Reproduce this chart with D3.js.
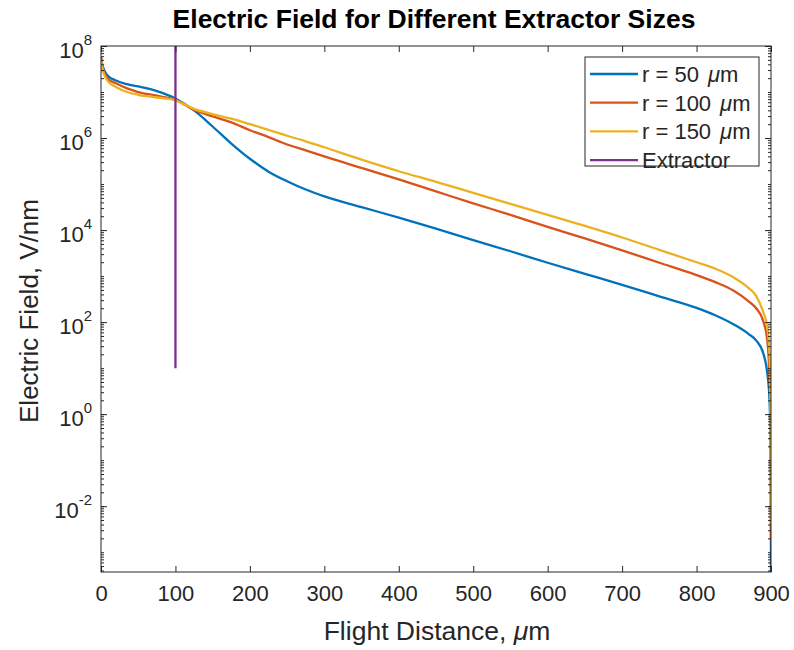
<!DOCTYPE html>
<html>
<head>
<meta charset="utf-8">
<script src="https://cdn.jsdelivr.net/npm/d3@7"></script>
<style>
  body { margin: 0; background: #fff; }
  svg { display: block; font-family: "Liberation Sans", Arial, Helvetica, sans-serif; }
</style>
</head>
<body>
<svg id="chart" width="794" height="650"></svg>
<script>
// Flight distance samples (µm)
const distance = [0, 2, 5, 10, 20, 35, 50, 75, 100, 125, 150, 175, 200, 225, 250, 275, 300, 350, 400,
  450, 500, 550, 600, 650, 700, 750, 800, 825, 850, 870, 880, 890, 895, 898, 899, 899.5, 899.8,
  899.95, 900];

// Electric field, V/nm, for each extractor radius
const fieldR50 = [5.75e7, 3.8e7, 2.82e7, 2.19e7, 1.78e7, 1.48e7, 1.32e7, 1.05e7, 7.24e6, 3.98e6, 1.78e6,
  7.6e5, 3.55e5, 1.86e5, 1.15e5, 7.6e4, 5.4e4, 3.16e4, 1.86e4, 1.07e4, 6.03e3, 3.47e3, 1.95e3, 1.12e3,
  646, 363, 204, 141, 89, 55, 40, 20, 7.9, 2.0, 0.5, 0.1, 0.01, 1e-3, 1e-4];
const fieldR100 = [5.5e7, 3.55e7, 2.51e7, 1.9e7, 1.55e7, 1.2e7, 1.0e7, 8.3e6, 6.76e6, 4.1e6, 2.95e6,
  2.19e6, 1.48e6, 1.05e6, 7.24e5, 5.4e5, 3.98e5, 2.24e5, 1.26e5, 6.92e4, 3.8e4, 2.14e4, 1.17e4,
  6.6e3, 3.63e3, 1.95e3, 1.05e3, 741, 479, 282, 200, 100, 40, 6.3, 1.58, 0.25, 0.032, 5e-3, 1.8e-3];
const fieldR150 = [5.25e7, 3.16e7, 2.24e7, 1.66e7, 1.29e7, 1.0e7, 8.7e6, 7.6e6, 6.6e6, 4.3e6, 3.31e6,
  2.63e6, 2.0e6, 1.51e6, 1.12e6, 8.5e5, 6.3e5, 3.39e5, 1.9e5, 1.12e5, 6.46e4, 3.72e4, 2.14e4, 1.23e4,
  6.9e3, 3.72e3, 2.0e3, 1.45e3, 933, 550, 372, 158, 79, 20, 6.3, 1.0, 0.126, 0.016, 4.3e-3];

// Extractor position marker
const extractorX = [100, 100];
const extractorY = [10, 1e8];

const seriesNames = ["r = 50", "r = 100", "r = 150", "Extractor"];
const seriesColors = ["#0072BD", "#D95319", "#EDB120", "#7E2F8E"];

const xTicks = [0, 100, 200, 300, 400, 500, 600, 700, 800, 900];
const yTickExponents = [-2, 0, 2, 4, 6, 8];

const svg = d3.select("#chart");
const pLeft = 101, pRight = 771, pTop = 46, pBottom = 572;

const x = d3.scaleLinear().domain([0, 900]).range([pLeft, pRight]);
const y = d3.scaleLog().domain([Math.pow(10, -3.43), 1e8]).range([pBottom, pTop]);

svg.append("defs").append("clipPath").attr("id", "plotclip")
  .append("rect").attr("x", pLeft).attr("y", pTop).attr("width", pRight - pLeft).attr("height", pBottom - pTop);

const tickColor = "#262626";

// Title
svg.append("text").attr("x", 434).attr("y", 28)
  .attr("text-anchor", "middle").attr("font-weight", "bold").attr("font-size", 26.5)
  .attr("fill", "#000").text("Electric Field for Different Extractor Sizes");

// Data lines
const line = d3.line().x(d => x(d[0])).y(d => y(d[1])).curve(d3.curveMonotoneX);
const plot = svg.append("g").attr("clip-path", "url(#plotclip)");
[fieldR50, fieldR100, fieldR150].forEach((vals, i) => {
  plot.append("path")
    .datum(distance.map((d, j) => [d, vals[j]]))
    .attr("d", line).attr("fill", "none")
    .attr("stroke", seriesColors[i]).attr("stroke-width", 2.3);
});
plot.append("path")
  .datum(extractorX.map((d, j) => [d, extractorY[j]]))
  .attr("d", d3.line().x(d => x(d[0])).y(d => y(d[1])))
  .attr("fill", "none").attr("stroke", seriesColors[3]).attr("stroke-width", 2.3);

// Axes (ticks point inward, mirrored on top/right)
const gxb = svg.append("g").attr("transform", `translate(0,${pBottom})`)
  .call(d3.axisBottom(x).tickValues(xTicks).tickSize(-6).tickPadding(13).tickFormat(d3.format("d")));
gxb.selectAll("text").attr("font-size", 22).attr("fill", tickColor);
const gxt = svg.append("g").attr("transform", `translate(0,${pTop})`)
  .call(d3.axisTop(x).tickValues(xTicks).tickSize(-6).tickFormat(""));

// Minor log ticks
const minor = [];
for (let e = -4; e < 8; e++) for (let k = 1; k <= 9; k++) {
  const v = k * Math.pow(10, e);
  if (v >= y.domain()[0] && v <= 1e8) minor.push(v);
}
const majorVals = yTickExponents.map(e => Math.pow(10, e));
const gyl = svg.append("g").attr("transform", `translate(${pLeft},0)`)
  .call(d3.axisLeft(y).tickValues(minor).tickSize(-3).tickFormat(""));
const gyl2 = svg.append("g").attr("transform", `translate(${pLeft},0)`)
  .call(d3.axisLeft(y).tickValues(majorVals).tickSize(-6).tickFormat(""));
const gyr = svg.append("g").attr("transform", `translate(${pRight},0)`)
  .call(d3.axisRight(y).tickValues(minor).tickSize(-3).tickFormat(""));
const gyr2 = svg.append("g").attr("transform", `translate(${pRight},0)`)
  .call(d3.axisRight(y).tickValues(majorVals).tickSize(-6).tickFormat(""));

[gxb, gxt, gyl, gyl2, gyr, gyr2].forEach(g => {
  g.attr("font-family", null);
  g.selectAll(".domain").remove();
  g.selectAll("line").attr("stroke", tickColor).attr("stroke-width", 1);
});

// Y tick labels as 10 with a superscript exponent
yTickExponents.forEach(e => {
  const t = svg.append("text").attr("x", 92).attr("y", y(Math.pow(10, e)) + 12)
    .attr("text-anchor", "end").attr("fill", tickColor).attr("font-size", 22);
  t.append("tspan").text("10");
  t.append("tspan").attr("dy", -13).attr("font-size", 15).text(String(e));
});

// Plot box
svg.append("rect").attr("x", pLeft).attr("y", pTop).attr("width", pRight - pLeft).attr("height", pBottom - pTop)
  .attr("fill", "none").attr("stroke", tickColor).attr("stroke-width", 1);

// Axis labels
const xl = svg.append("text").attr("x", 437).attr("y", 640)
  .attr("text-anchor", "middle").attr("font-size", 26.5).attr("fill", tickColor);
xl.append("tspan").text("Flight Distance, ");
xl.append("tspan").attr("font-style", "italic").text("μ");
xl.append("tspan").text("m");

svg.append("text").attr("transform", "translate(38,311) rotate(-90)")
  .attr("text-anchor", "middle").attr("font-size", 26).attr("fill", tickColor)
  .text("Electric Field, V/nm");

// Legend
const lg = svg.append("g");
lg.append("rect").attr("x", 585).attr("y", 57).attr("width", 174).attr("height", 109)
  .attr("fill", "#fff").attr("stroke", tickColor).attr("stroke-width", 1);
seriesNames.forEach((name, i) => {
  const cy = 74 + i * 28.7;
  lg.append("line").attr("x1", 590).attr("x2", 638).attr("y1", cy).attr("y2", cy)
    .attr("stroke", seriesColors[i]).attr("stroke-width", 2.3);
  const t = lg.append("text").attr("x", 642).attr("y", cy + 8)
    .attr("font-size", 22).attr("fill", tickColor);
  t.append("tspan").text(name);
  if (i < 3) {
    t.append("tspan").attr("dx", 9).attr("font-style", "italic").text("μ");
    t.append("tspan").text("m");
  }
});
</script>
</body>
</html>
